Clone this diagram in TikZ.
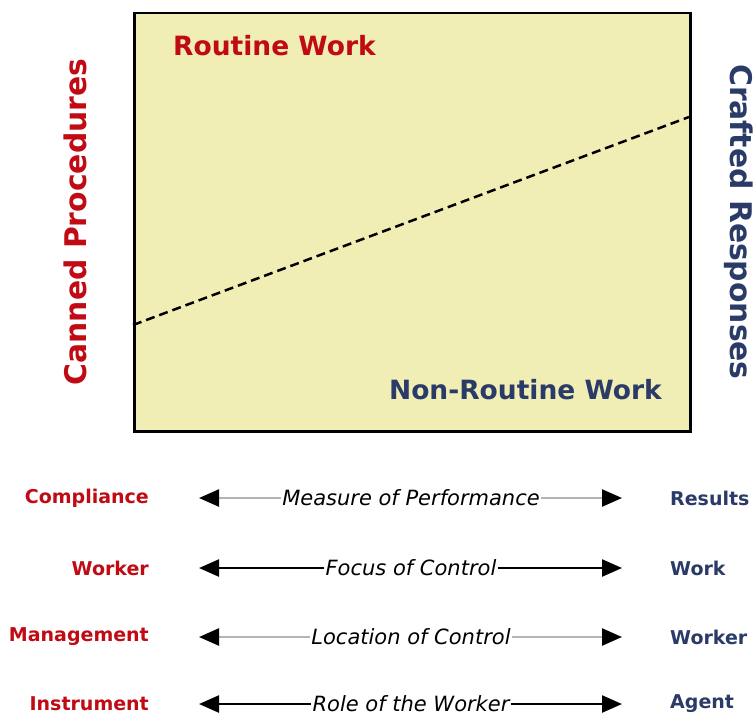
\documentclass[tikz,border=0pt]{standalone}
\usepackage{fontspec}
\setmainfont{DejaVu Sans}
\usetikzlibrary{arrows.meta}
\definecolor{wred}{HTML}{C00A14}
\definecolor{wblue}{HTML}{2B3B68}
\definecolor{pad}{HTML}{F0EEB5}
\definecolor{softgray}{HTML}{B4B4B4}
\tikzset{
  redlbl/.style={font=\bfseries\fontsize{19}{22}\selectfont, text=wred, inner sep=0pt},
  bluelbl/.style={font=\bfseries\fontsize{19}{22}\selectfont, text=wblue, inner sep=0pt},
  midlbl/.style={font=\itshape\fontsize{21}{24}\selectfont, inner sep=1pt},
  scale line/.style={line width=2.4pt, >={Triangle[length=20pt,width=17pt,color=black]}},
  titlelbl/.style={font=\bfseries\fontsize{26.5}{30}\selectfont, inner sep=0pt},
  sidelbl/.style={font=\bfseries\fontsize{29.8}{34}\selectfont, inner sep=0pt}
}
\begin{document}
\begin{tikzpicture}[x=1pt,y=-1pt]
\useasboundingbox (0,0) rectangle (754,717);
% the work area
\node[draw=black, line width=2.5pt, fill=pad, minimum width=556pt, minimum height=418pt, inner sep=0pt, anchor=north west] (area) at (133,12) {};
\coordinate (dl) at (133,325);
\coordinate (dr) at (689,117);
\draw[line width=2.5pt, dash pattern=on 9pt off 5pt] (dl) -- (dr);
\node[titlelbl, text=wred, anchor=west] (routine) at (173,46) {Routine Work};
\node[titlelbl, text=wblue, anchor=east] (nonroutine) at (662,390) {Non-Routine Work};
\node[sidelbl, text=wred, rotate=90] (canned) at (75,222) {Canned Procedures};
\node[sidelbl, text=wblue, rotate=-90] (crafted) at (739,222) {Crafted Responses};
% the four scales
\foreach \y/\l/\m/\r/\c [count=\i] in {
  498/Compliance/Measure of Performance/Results/softgray,
  568/Worker/Focus of Control/Work/black,
  637/Management/Location of Control/Worker/softgray,
  704/Instrument/Role of the Worker/Agent/black}{
  \node[redlbl, anchor=east] (left\i) at (149,\y) {\l};
  \node[bluelbl, anchor=west] (right\i) at (670,\y) {\r};
  \node[midlbl] (mid\i) at (411,\y) {\m};
  \coordinate (lt\i) at (199,\y);
  \coordinate (rt\i) at (622,\y);
  \draw[scale line, draw=\c, <-] (lt\i) -- (mid\i.west);
  \draw[scale line, draw=\c, ->] (mid\i.east) -- (rt\i);
}
\end{tikzpicture}
\end{document}
